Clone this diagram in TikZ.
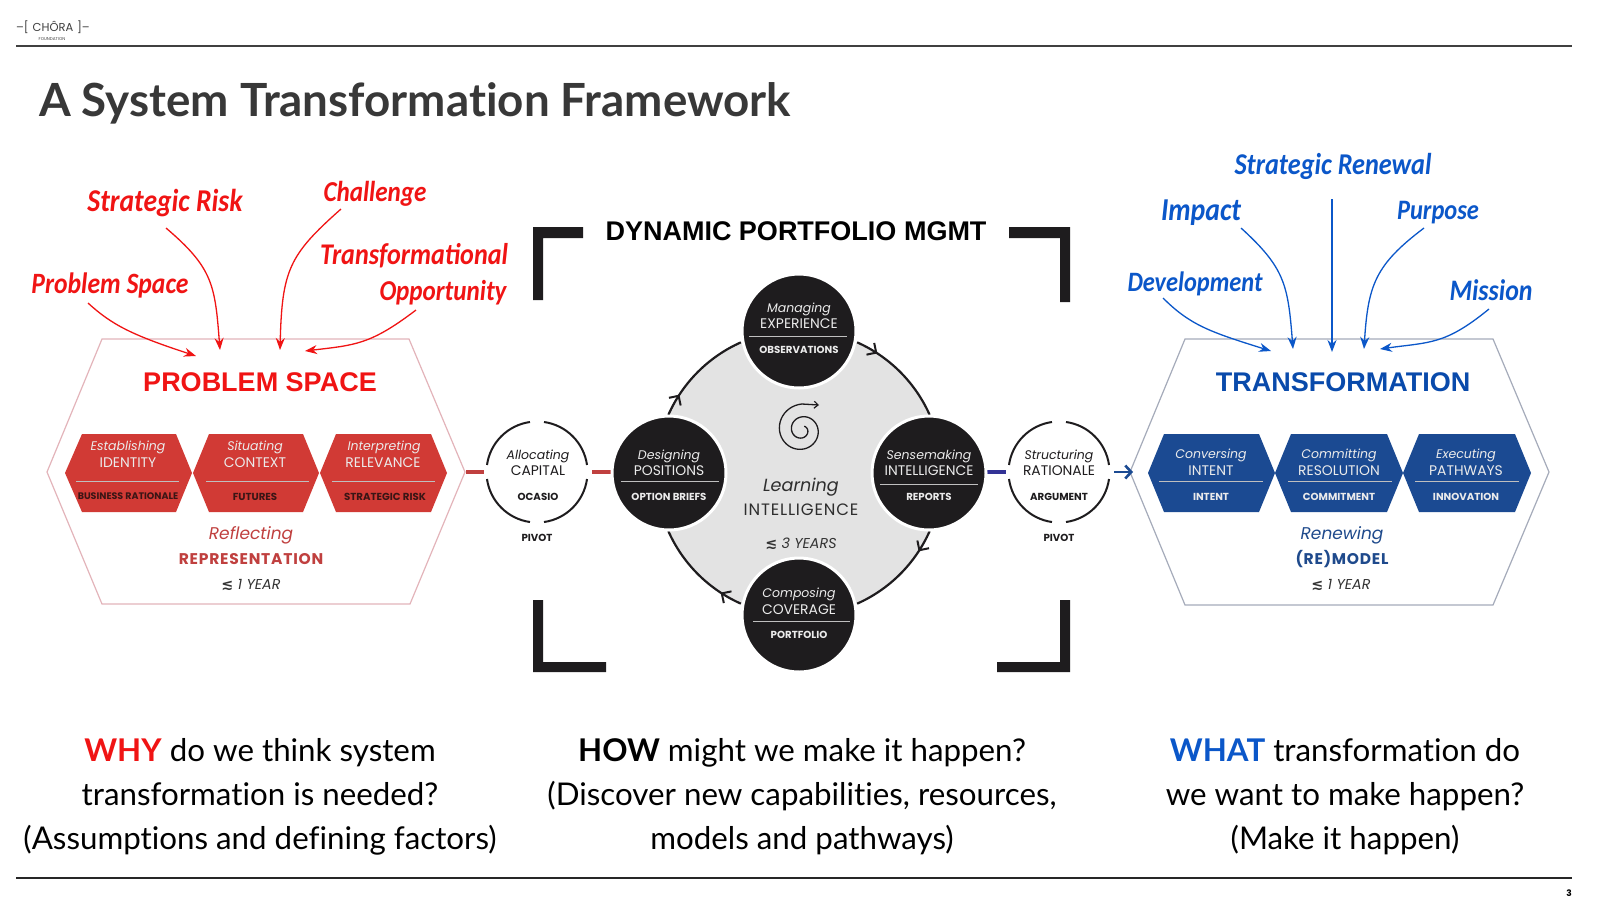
\documentclass[tikz,border=0pt]{standalone}
\usepackage{fontspec}
\usepackage{graphicx}
\usetikzlibrary{arrows.meta,decorations.markings,calc}
\setmainfont[Ligatures=NoCommon]{Lato}
\newfontfamily\pop{Poppins}
\newfontfamily\popls[LetterSpace=5]{Poppins}
\newfontfamily\arl{Liberation Sans}
\newfontfamily\hand{Carlito}
\newfontfamily\sym{DejaVu Sans}
\definecolor{hred}{HTML}{F01414}
\definecolor{hblue}{HTML}{0B57C9}
\definecolor{fillred}{HTML}{D13A35}
\definecolor{fillblue}{HTML}{1B4A92}
\definecolor{darkred}{HTML}{C0403F}
\definecolor{darkblue}{HTML}{1F4A8C}
\definecolor{inkk}{HTML}{1E1C1E}
\definecolor{darktag}{HTML}{3A1515}
\definecolor{edgered}{HTML}{E3B4BA}
\definecolor{edgeblue}{HTML}{A5ABBA}
\newcommand{\fs}[1]{\fontsize{#1}{#1}\selectfont}
\newcommand{\hw}[2]{\resizebox{#1pt}{!}{\scalebox{1}[1.15]{\hand\bfseries\itshape #2}}}
\newcommand{\lesssimy}{{\sym\bfseries\char"2272}}
\tikzset{
  x=1pt,y=-1pt,
  lbl/.style={inner sep=0,outer sep=0},
  ital/.style={lbl,yshift=-1pt,font=\pop\itshape\fs{12.5}},
  caps/.style={lbl,yshift=-1pt,font=\pop\fs{13.9}},
  tiny/.style={lbl,yshift=-0.5pt,font=\pop\bfseries\fs{10.2}},
  whit/.style={text=white!92!black},
  handred/.style={lbl,text=hred},
  handblue/.style={lbl,text=hblue},
  redarrow/.style={draw=hred,line width=1.3pt,-{Stealth[length=12pt,width=9pt]}},
  bluearrow/.style={draw=hblue,line width=1.3pt,-{Stealth[length=12pt,width=9pt]}},
  bigtitle/.style={lbl,font=\arl\bfseries\fs{27},yshift=-1pt},
  yr/.style={lbl,font=\pop\itshape\fs{14.3},text=black!80},
  closing/.style={lbl,anchor=base,font=\fs{31.3}},
  bracket/.style={fill=inkk},
  disc/.style={circle,fill=inkk,draw=white,line width=3pt,minimum size=114pt,inner sep=0},
  cyc/.style={draw=inkk,line width=2.2pt,postaction={decorate},decoration={markings,mark=at position 0.22 with {\arrow{Straight Barb[length=7pt,width=14pt,line width=2pt]}}}},
  rule/.style={draw=white!75!black,line width=0.9pt},
  pivotarc/.style={draw=inkk,line width=2pt},
}
\newcommand{\hexa}[5]{\fill[#1] (#2,473)--(#3,434)--(#4,434)--(#5,473)--(#4,512)--(#3,512)--cycle;}
\newcommand{\pivring}[1]{%
  \foreach \a in {8,98,188,278}{\draw[pivotarc] ($(#1)+(\a:50.5 and -50.5)$) arc[start angle=-\a,delta angle=-74,radius=50.5];}}
\begin{document}
\begin{tikzpicture}
\useasboundingbox (0,0) rectangle (1600,898);
\fill[white] (0,0) rectangle (1600,898);
% header
\draw[draw=black!75,line width=1.2pt] (16,46) -- (1572,46);
\draw[draw=black!85,line width=1.2pt] (16,878) -- (1572,878);
\node[lbl,font=\pop\fs{11.5},text=black!75] (logo) at (53,27) {–[\,\,CHÔRA\,\,]–};
\node[lbl,font=\pop\fs{4.2},text=black!75] (logosub) at (52,39) {FOUNDATION};
\node[lbl,font=\pop\bfseries\fs{9}] (pageno) at (1569,893) {3};
\node[lbl,anchor=base west,font=\bfseries\fs{45.7},text=black!78] (title) at (39,116) {A System Transformation Framework};
% brackets
\fill[bracket] (533,300)--(533,227)--(583,227)--(583,238)--(543,238)--(543,300)--cycle;
\fill[bracket] (1009,227)--(1070,227)--(1070,302)--(1060,302)--(1060,238)--(1009,238)--cycle;
\fill[bracket] (533,600)--(543,600)--(543,662)--(606,662)--(606,672)--(533,672)--cycle;
\fill[bracket] (1060,600)--(1070,600)--(1070,672)--(997,672)--(997,662)--(1060,662)--cycle;
\node[lbl,font=\arl\bfseries\fs{27}] (dyn) at (796,231) {DYNAMIC PORTFOLIO MGMT};
% large hexagons
\draw[draw=edgered,line width=1.2pt] (47,472)--(102,339)--(409,339)--(465,472)--(410,604)--(102,604)--cycle;
\draw[draw=edgeblue,line width=1.2pt] (1130,472)--(1185,339)--(1493,339)--(1549,472)--(1493,605)--(1185,605)--cycle;
\node[bigtitle,text=hred] (ps) at (260,381) {PROBLEM SPACE};
\node[bigtitle,text=hblue!85!black] (tf) at (1343,381) {TRANSFORMATION};
% red hexes
\hexa{fillred}{65}{82}{176}{192}
\hexa{fillred}{193}{209}{303}{319}
\hexa{fillred}{320}{336}{431}{447}
\foreach \a/\b in {76/179,206/309,332/435}{\draw[rule] (\a,481)--(\b,481);}
\node[ital,whit] (r1a) at (128,446) {Establishing};
\node[caps,whit] (r1b) at (128,462) {IDENTITY};
\node[tiny,text=darktag,font=\pop\bfseries\fs{9.5}] (r1c) at (128,496) {BUSINESS RATIONALE};
\node[ital,whit] (r2a) at (255,446) {Situating};
\node[caps,whit] (r2b) at (255,462) {CONTEXT};
\node[tiny,text=darktag] (r2c) at (255,496) {FUTURES};
\node[ital,whit] (r3a) at (384,446) {Interpreting};
\node[caps,whit] (r3b) at (383,462) {RELEVANCE};
\node[tiny,text=darktag] (r3c) at (385,496) {STRATEGIC RISK};
\node[lbl,yshift=-1pt,font=\pop\itshape\fs{17},text=darkred] (rf) at (251,534) {Reflecting};
\node[lbl,font=\popls\bfseries\fs{15.5},text=darkred] (rep) at (251,559) {REPRESENTATION};
\node[yr] (y1) at (251,585) {\lesssimy\ 1 YEAR};
% blue hexes
\hexa{fillblue}{1148}{1164}{1259}{1275}
\hexa{fillblue}{1275}{1291}{1387}{1403}
\hexa{fillblue}{1403}{1419}{1515}{1531}
\foreach \a/\b in {1159/1263,1288/1392,1415/1519}{\draw[rule] (\a,481)--(\b,481);}
\node[ital,whit] (b1a) at (1211,454) {Conversing};
\node[caps,whit] (b1b) at (1211,470) {INTENT};
\node[tiny,whit] (b1c) at (1211,496) {INTENT};
\node[ital,whit] (b2a) at (1339,454) {Committing};
\node[caps,whit] (b2b) at (1339,470) {RESOLUTION};
\node[tiny,whit] (b2c) at (1339,496) {COMMITMENT};
\node[ital,whit] (b3a) at (1466,454) {Executing};
\node[caps,whit] (b3b) at (1466,470) {PATHWAYS};
\node[tiny,whit] (b3c) at (1466,496) {INNOVATION};
\node[lbl,yshift=-1pt,font=\pop\itshape\fs{17},text=darkblue] (rn) at (1342,534) {Renewing};
\node[lbl,font=\popls\bfseries\fs{15.5},text=darkblue] (rm) at (1342,559) {(RE)MODEL};
\node[yr] (y2) at (1341,585) {\lesssimy\ 1 YEAR};
% pivots
\coordinate (pl) at (537,472);
\coordinate (pr) at (1059,472);
\pivring{pl}
\pivring{pr}
\node[ital,text=inkk] (p1a) at (538,455) {Allocating};
\node[caps,text=inkk] (p1b) at (538,470) {CAPITAL};
\node[tiny,text=inkk] (p1c) at (538,496) {OCASIO};
\node[tiny,text=inkk] (p1d) at (537,537) {PIVOT};
\node[ital,text=inkk] (p2a) at (1059,455) {Structuring};
\node[caps,text=inkk] (p2b) at (1059,470) {RATIONALE};
\node[tiny,text=inkk] (p2c) at (1059,496) {ARGUMENT};
\node[tiny,text=inkk] (p2d) at (1059,537) {PIVOT};
% pivot links
\coordinate (lnka) at (466,472); \coordinate (lnkb) at (484,472);
\coordinate (lnkc) at (592,472); \coordinate (lnkd) at (612,472);
\coordinate (lnke) at (987,472); \coordinate (lnkf) at (1006,472);
\coordinate (lnkg) at (1114,472); \coordinate (lnkh) at (1133,472);
\draw[draw=darkred,line width=3.4pt] (lnka)--(lnkb);
\draw[draw=darkred,line width=3.4pt] (lnkc)--(lnkd);
\draw[draw=black!35!blue!60!gray,line width=3.4pt] (lnke)--(lnkf);
\draw[draw=fillblue,line width=2.8pt,-{Straight Barb[length=6pt,width=13pt,line width=2.6pt]}] (lnkg)--(lnkh);
% central cycle
\coordinate (ctr) at (799,473);
\fill[black!11] (ctr) circle[radius=143];
\draw[cyc] (799,473) ++(66:143 and -143) arc[start angle=-66,end angle=-24,radius=143];
\draw[cyc] (799,473) ++(-24:143 and -143) arc[start angle=24,end angle=66,radius=143];
\draw[cyc] (799,473) ++(-114:143 and -143) arc[start angle=114,end angle=156,radius=143];
\draw[cyc] (799,473) ++(156:143 and -143) arc[start angle=-156,end angle=-114,radius=143];
\node[disc] (mg) at (799,331) {};
\node[disc] (de) at (669,473) {};
\node[disc] (se) at (929,473) {};
\node[disc] (co) at (799,615) {};
\draw[rule] (749,336)--(847,336);
\draw[rule] (621,481)--(719,481);
\draw[rule] (880,484)--(978,484);
\draw[rule] (753,621)--(850,621);
\node[ital,whit] (m1) at (799,308) {Managing};
\node[caps,whit] (m2) at (799,323) {EXPERIENCE};
\node[tiny,whit] (m3) at (799,349) {OBSERVATIONS};
\node[ital,whit] (d1) at (669,455) {Designing};
\node[caps,whit] (d2) at (669,470) {POSITIONS};
\node[tiny,whit] (d3) at (669,496) {OPTION BRIEFS};
\node[ital,whit] (s1) at (929,455) {Sensemaking};
\node[caps,whit] (s2) at (929,470) {INTELLIGENCE};
\node[tiny,whit] (s3) at (929,496) {REPORTS};
\node[ital,whit] (c1) at (799,593) {Composing};
\node[caps,whit] (c2) at (799,609) {COVERAGE};
\node[tiny,whit] (c3) at (799,634) {PORTFOLIO};
\node[lbl,yshift=-1pt,font=\pop\itshape\fs{17.6},text=black!82] (li) at (801,486) {Learning};
\node[lbl,font=\popls\fs{16.5},text=black!82] (lj) at (801,510) {INTELLIGENCE};
\node[yr] (y3) at (801,544) {\lesssimy\ 3 YEARS};
\coordinate (spiralend) at (819,405);
\draw[draw=inkk,line width=1.3pt,-{Straight Barb[length=4pt,width=7pt,line width=1.2pt]}]
  plot[smooth,domain=300:990,samples=90] ({802+26*pow(\x/990,1.5)*cos(\x)},{430+26*pow(\x/990,1.5)*sin(\x)}) -- (spiralend);
% hand labels red
\node[handred] (h1) at (165,203) {\hw{155}{Strategic Risk}};
\node[handred] (h2) at (375,194) {\hw{103}{Challenge}};
\node[handred] (h3) at (414,256) {\hw{188}{Transformational}};
\node[handred] (h4) at (443,293) {\hw{127}{Opportunity}};
\node[handred] (h5) at (110,285) {\hw{157}{Problem Space}};
\coordinate (a1) at (88,303);  \coordinate (a1e) at (196,356);
\coordinate (a2) at (166,228); \coordinate (a2e) at (220,350);
\coordinate (a3) at (341,209); \coordinate (a3e) at (280,350);
\coordinate (a4) at (416,310); \coordinate (a4e) at (305,351);
\draw[redarrow] (a1) .. controls (112,325) and (132,335) .. (a1e);
\draw[redarrow] (a2) .. controls (213,268) and (215,285) .. (a2e);
\draw[redarrow] (a3) .. controls (289,255) and (282,270) .. (a3e);
\draw[redarrow] (a4) .. controls (370,345) and (355,345) .. (a4e);
% hand labels blue
\node[handblue] (k1) at (1333,166) {\hw{197}{Strategic Renewal}};
\node[handblue] (k2) at (1201,213) {\hw{80}{Impact}};
\node[handblue] (k3) at (1438,213) {\hw{82}{Purpose}};
\node[handblue] (k4) at (1195,284) {\hw{135}{Development}};
\node[handblue] (k5) at (1491,290) {\hw{83}{Mission}};
\coordinate (b1) at (1163,298); \coordinate (b1e) at (1271,351);
\coordinate (b2) at (1241,228); \coordinate (b2e) at (1293,349);
\coordinate (b3) at (1332,199); \coordinate (b3e) at (1332,352);
\coordinate (b4) at (1424,228); \coordinate (b4e) at (1364,349);
\coordinate (b5) at (1489,309); \coordinate (b5e) at (1380,349);
\draw[bluearrow] (b1) .. controls (1190,325) and (1210,332) .. (b1e);
\draw[bluearrow] (b2) .. controls (1285,268) and (1288,285) .. (b2e);
\draw[bluearrow] (b3) -- (b3e);
\draw[bluearrow] (b4) .. controls (1375,265) and (1368,285) .. (b4e);
\draw[bluearrow] (b5) .. controls (1445,345) and (1430,342) .. (b5e);
% closing text
\node[closing] (w1) at (260,761) {\textcolor{hred}{\textbf{WHY}} do we think system};
\node[closing] (w2) at (260,805) {transformation is needed?};
\node[closing] (w3) at (260,849) {(Assumptions and defining factors)};
\node[closing] (o1) at (802,761) {\textbf{HOW} might we make it happen?};
\node[closing] (o2) at (802,805) {(Discover new capabilities, resources,};
\node[closing] (o3) at (802,849) {models and pathways)};
\node[closing] (t1) at (1345,761) {\textcolor{hblue}{\textbf{WHAT}} transformation do};
\node[closing] (t2) at (1345,805) {we want to make happen?};
\node[closing] (t3) at (1345,849) {(Make it happen)};
\end{tikzpicture}
\end{document}
